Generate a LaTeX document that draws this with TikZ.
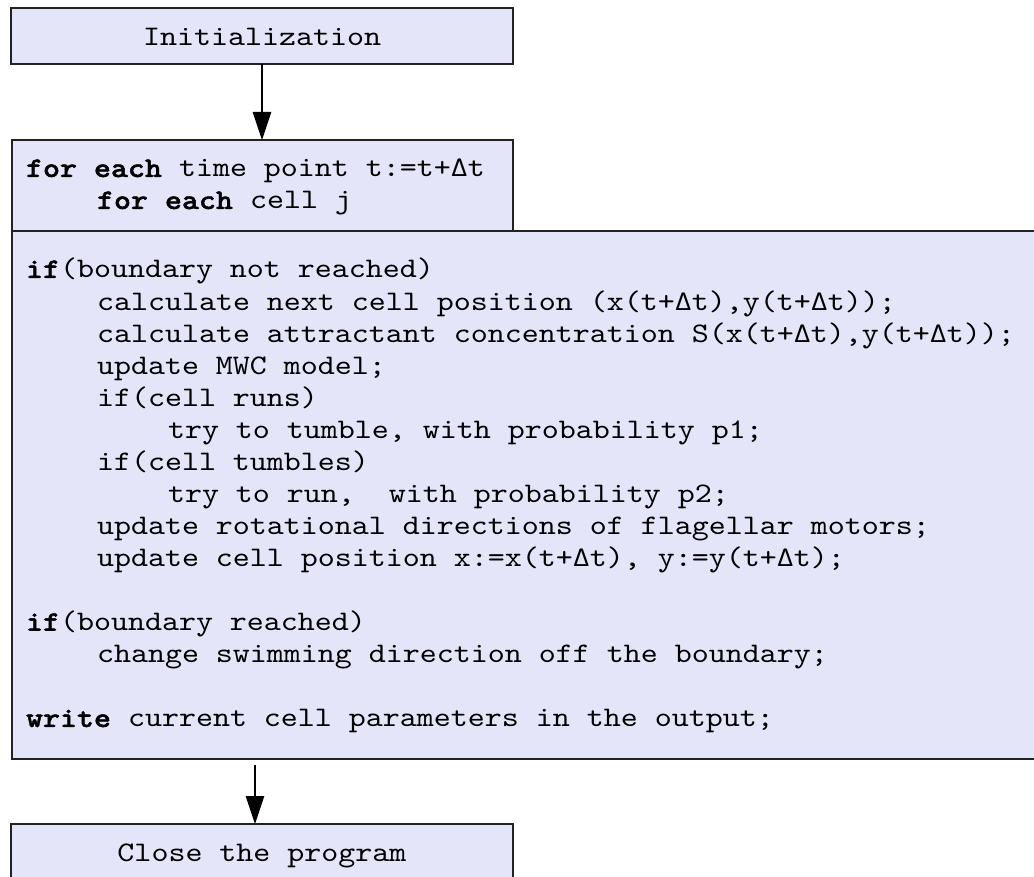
\documentclass[tikz,border=0pt]{standalone}
\usepackage{fontspec}
\newfontfamily\codefont{lmmono10-regular.otf}[FakeStretch=1.143, BoldFont=lmmonolt10-bold.otf, BoldFeatures={FakeStretch=1.143, FakeBold=1.5}]
\usetikzlibrary{arrows.meta,calc}
\definecolor{boxfill}{RGB}{229,229,250}
\definecolor{boxline}{RGB}{34,34,34}
\tikzset{
  box/.style={draw=boxline, line width=1.2pt, fill=boxfill, inner sep=0pt, outer sep=0pt, anchor=north west},
  txt/.style={inner sep=0pt, outer sep=0pt, anchor=base west, font={\codefont\fontsize{28.33}{32}\selectfont}},
  ctxt/.style={txt, anchor=base},
  arr/.style={draw=black, line width=1.2pt, -{Triangle[width=18.5pt,length=28pt]}}
}
\begin{document}
\begin{tikzpicture}[x=1pt,y=-1pt]
\clip (0,0) rectangle (1034,877);
\fill[white] (0,0) rectangle (1034,877);
% boxes
\node[box, minimum width=502pt, minimum height=56pt] (init) at (11,8) {};
\node[box, minimum width=501pt, minimum height=91pt] (loop) at (12,140) {};
\node[box, minimum width=1040pt, minimum height=528pt] (body) at (12,231) {};
\node[box, minimum width=502pt, minimum height=76pt] (close) at (11,824) {};
% box texts
\node[ctxt] (initT) at (262,45.5) {Initialization};
\node[ctxt] (closeT) at (262,861) {Close the program};
\node[txt] (f1) at (26,177) {\textbf{for each} time point t:=t+Δt};
\node[txt] (f2) at (97,209) {\textbf{for each} cell j};
% body lines
\node[txt] (l0) at (26,278) {\textbf{if}(boundary not reached)};
\node[txt] (l1) at (97,310.07) {calculate next cell position (x(t+Δt),y(t+Δt));};
\node[txt] (l2) at (97,342.14) {calculate attractant concentration S(x(t+Δt),y(t+Δt));};
\node[txt] (l3) at (97,374.21) {update MWC model;};
\node[txt] (l4) at (97,406.28) {if(cell runs)};
\node[txt] (l5) at (168,438.35) {try to tumble, with probability p1;};
\node[txt] (l6) at (97,470.42) {if(cell tumbles)};
\node[txt] (l7) at (168,502.49) {try to run,\ \ with probability p2;};
\node[txt] (l8) at (97,534.56) {update rotational directions of flagellar motors;};
\node[txt] (l9) at (97,566.63) {update cell position x:=x(t+Δt), y:=y(t+Δt);};
\node[txt] (l11) at (26,630.77) {\textbf{if}(boundary reached)};
\node[txt] (l12) at (97,662.84) {change swimming direction off the boundary;};
\node[txt] (l14) at (26,726.98) {\textbf{write} current cell parameters in the output;};
% connectors
\draw[arr] (init.south) -- (init.south |- loop.north);
\path ([xshift=-7pt]close.north) coordinate (a2);
\draw[arr, shorten <=6pt] (body.south -| a2) -- (a2);
\end{tikzpicture}
\end{document}
